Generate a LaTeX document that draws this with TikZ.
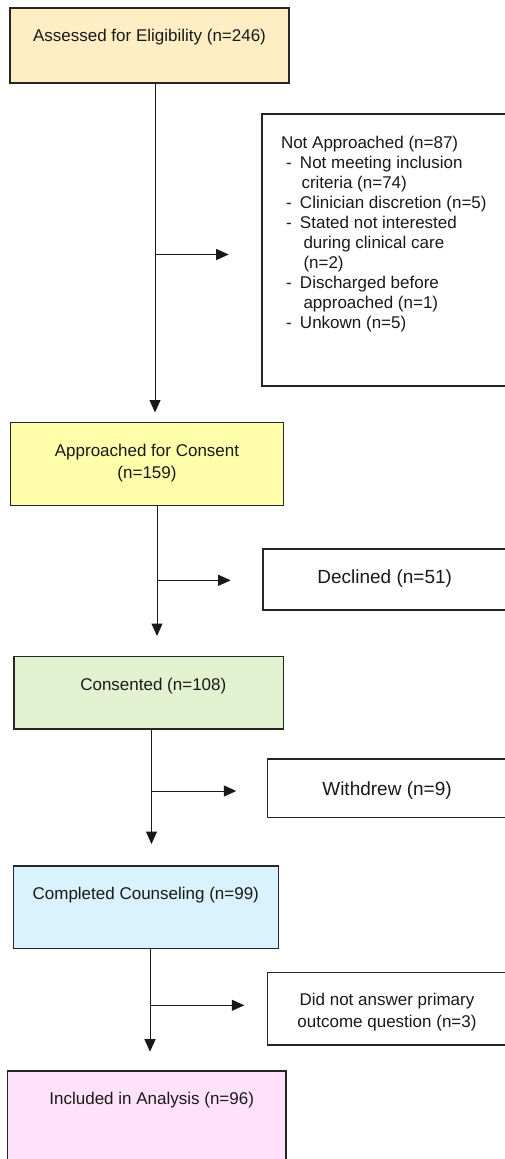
\documentclass[tikz,border=0pt]{standalone}
\usepackage{fontspec}
\setmainfont{Liberation Sans}
\usetikzlibrary{arrows.meta}
\definecolor{cOrange}{HTML}{FFEEC4}
\definecolor{cYellow}{HTML}{FFFEAA}
\definecolor{cGreen}{HTML}{E2F2D0}
\definecolor{cBlue}{HTML}{D9F2FE}
\definecolor{cPink}{HTML}{FFE2FA}
\definecolor{cLine}{HTML}{262626}
\newcommand{\dashitem}{\makebox[19pt][l]{\hspace{5pt}-}}
\begin{document}
\begin{tikzpicture}[x=1pt,y=-1pt,
  box/.style={draw=cLine, line width=1.3pt, inner sep=0pt, outer sep=0pt, anchor=north west},
  txt/.style={inner sep=0pt, outer sep=0pt, anchor=base, text=black!90, font=\fontsize{17}{20}\selectfont},
  bigtxt/.style={txt, font=\fontsize{19}{22}\selectfont},
  arr/.style={draw=black!90, line width=1pt, -{Triangle[length=12.5pt,width=11pt]}}
]
\useasboundingbox (0,0) rectangle (504,1159);
\fill[white] (0,0) rectangle (504,1159);

% main boxes
\node[box, fill=cOrange, minimum width=279pt, minimum height=75pt] (b1) at (10,8) {};
\node[box, fill=cYellow, minimum width=273pt, minimum height=83pt] (b2) at (10.7,422.7) {};
\node[box, fill=cGreen, minimum width=269.7pt, minimum height=72.3pt] (b3) at (14,656.7) {};
\node[box, fill=cBlue, minimum width=265.4pt, minimum height=82.7pt] (b4) at (13.3,866) {};
\node[box, fill=cPink, minimum width=278.7pt, minimum height=110pt] (b5) at (7.3,1071) {};

% side boxes
\node[box, fill=white, minimum width=246pt, minimum height=272pt] (na) at (262,114) {};
\node[box, fill=white, minimum width=245pt, minimum height=61pt] (dec) at (263,549) {};
\node[box, fill=white, minimum width=240.3pt, minimum height=58.3pt] (wd) at (267.7,759) {};
\node[box, fill=white, minimum width=240.7pt, minimum height=72.7pt] (dna) at (267.3,972.3) {};

% texts
\node[txt] (t1) at (149.5,41.7) {Assessed for Eligibility (n=246)};
\node[txt] (t2) at (147,456) {\begin{tabular}[t]{@{}c@{}}Approached for Consent\\[2.7pt](n=159)\end{tabular}};
\node[txt] (t3) at (153.3,690.3) {Consented (n=108)};
\node[txt] (t4) at (145.8,899.3) {Completed Counseling (n=99)};
\node[txt] (t5) at (151.7,1104.3) {Included in Analysis (n=96)};

\node[txt, anchor=base west] (tna) at (281,148.7) {\begin{tabular}[t]{@{}l@{}}%
Not Approached (n=87)\\
\dashitem Not meeting inclusion\\
\hspace*{20.5pt}criteria (n=74)\\
\dashitem Clinician discretion (n=5)\\
\dashitem Stated not interested\\
\hspace*{22.5pt}during clinical care\\
\hspace*{22.5pt}(n=2)\\
\dashitem Discharged before\\
\hspace*{22.5pt}approached (n=1)\\
\dashitem Unkown (n=5)
\end{tabular}};
\node[bigtxt] (tdec) at (384.7,583.5) {Declined (n=51)};
\node[bigtxt] (twd) at (387,795.5) {Withdrew (n=9)};
\node[txt] (tdna) at (387,1005) {\begin{tabular}[t]{@{}c@{}}Did not answer primary\\[2.7pt]outcome question (n=3)\end{tabular}};

% connector columns and junctions
\coordinate (v1) at (155,0);
\coordinate (v2) at (157,0);
\coordinate (v3) at (151.5,0);
\coordinate (v4) at (150,0);
\coordinate (j1) at (155,254.5);
\coordinate (j2) at (157,580.3);
\coordinate (j3) at (151.5,791);
\coordinate (j4) at (150,1005.3);

\draw[arr, shorten >=10.2pt] (b1.south -| v1) -- (b2.north -| v1);
\draw[arr, shorten >=33.3pt] (j1) -- (j1 -| na.west);
\draw[arr, shorten >=20.7pt] (b2.south -| v2) -- (b3.north -| v2);
\draw[arr, shorten >=32.3pt] (j2) -- (j2 -| dec.west);
\draw[arr, shorten >=22pt] (b3.south -| v3) -- (b4.north -| v3);
\draw[arr, shorten >=31.4pt] (j3) -- (j3 -| wd.west);
\draw[arr, shorten >=19.3pt] (b4.south -| v4) -- (b5.north -| v4);
\draw[arr, shorten >=23pt] (j4) -- (j4 -| dna.west);
\end{tikzpicture}
\end{document}
